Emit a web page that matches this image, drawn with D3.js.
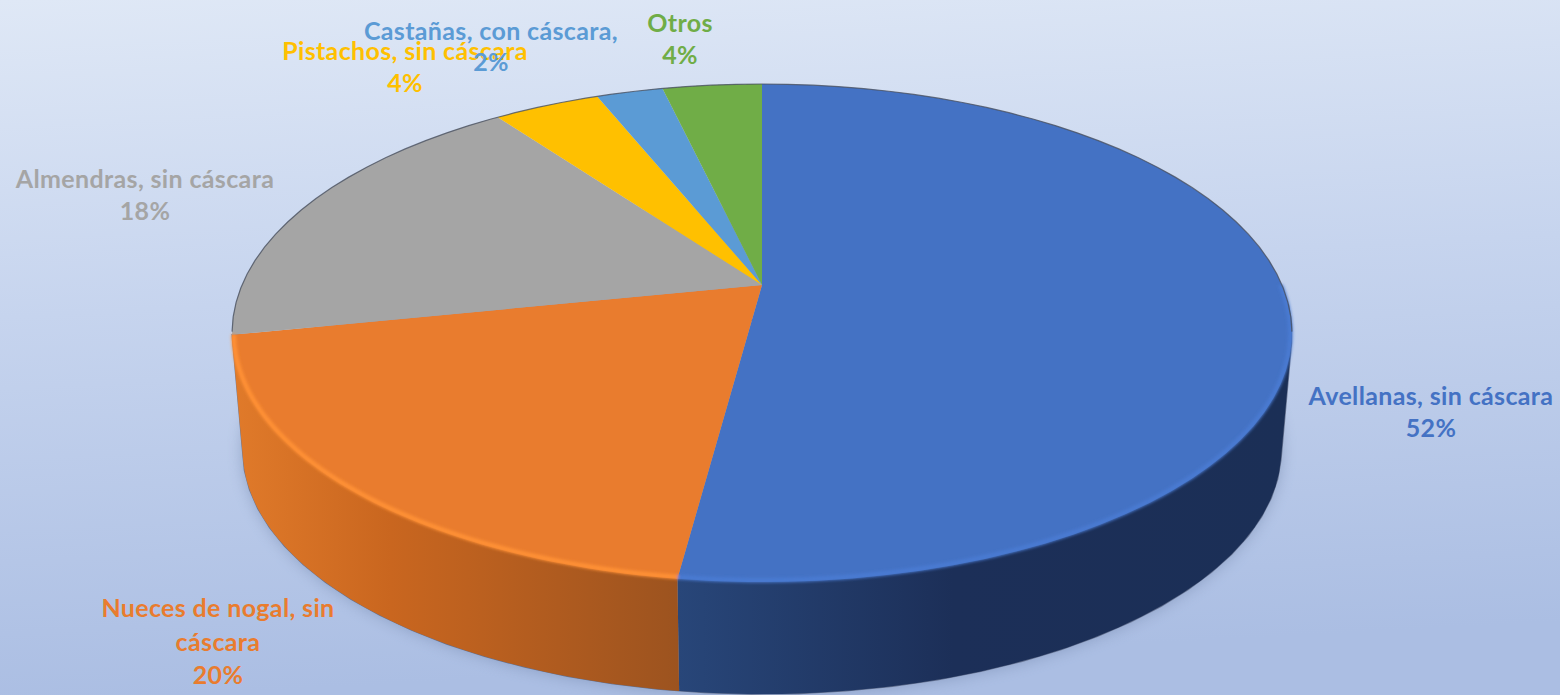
<!DOCTYPE html>
<html>
<head>
<meta charset="utf-8">
<script src="https://cdn.jsdelivr.net/npm/d3@7"></script>
<style>
  html, body { margin: 0; padding: 0; overflow: hidden; }
  svg { display: block; }
  text { font-family: Lato, "Open Sans", sans-serif; font-weight: 700; text-anchor: middle; }
</style>
</head>
<body>
<div id="chart"></div>
<script>
var categories = ['Avellanas, sin cáscara', 'Nueces de nogal, sin cáscara', 'Almendras, sin cáscara',
  'Pistachos, sin cáscara', 'Castañas, con cáscara,', 'Otros'];
var shares = [52.1, 19.7, 18.2, 3.9, 2.45, 3.65];
var colors = ['#4472c4', '#e97c2e', '#a5a5a5', '#ffc000', '#5b9bd5', '#70ad47'];
var rimColors = ['#4a7ad2', '#ff9136', '#b4b4b4', '#ffc000', '#5b9bd5', '#70ad47'];

var width = 1560, height = 695;

// label placement, one entry per category (centre x, first baseline, line gap)
var labelPos = [
  { x: 1431, y: 405, gap: 32 },
  { x: 218, y: 617, gap: 33.5 },
  { x: 145, y: 188, gap: 32 },
  { x: 405, y: 60, gap: 32 },
  { x: 491, y: 40, gap: 31 },
  { x: 680, y: 32, gap: 32 }
];

// tilted disc: a unit circle seen in perspective, the lower rim a bit smaller
var cx = 762, topY = 285, lowY = 403, lowScale = 0.98;
var kx = 520, ky = 239.75, persp = -0.1928;

function project(angle, low) {
  var x = Math.sin(angle), y = -Math.cos(angle), w = 1 + persp * y;
  var s = low ? lowScale : 1;
  return [cx + s * kx * x / w, (low ? lowY : topY) + s * ky * y / w];
}

function rimPoints(a0, a1, low) {
  return d3.range(0, 61).map(function(i) {
    return project(a0 + (a1 - a0) * i / 60, low);
  });
}

// wall of a front slice = hull of both rims (its inner part ends up under the top face)
function wallPath(a0, a1) {
  var pts = rimPoints(a0, a1, false).concat(rimPoints(a0, a1, true)).filter(function(p) { return p[1] > 300; });
  return line(d3.polygonHull(pts)) + 'Z';
}

var line = d3.line();
var total = d3.sum(shares);
var pct = d3.format('.0%');

var pie = d3.pie().sort(null).value(function(d) { return d; });
var arcs = pie(shares);

var svg = d3.select('#chart').append('svg')
  .attr('width', width)
  .attr('height', height);

var defs = svg.append('defs');

var bg = defs.append('linearGradient').attr('id', 'bg')
  .attr('x1', '0%').attr('y1', '0%').attr('x2', '12%').attr('y2', '100%');
bg.append('stop').attr('offset', '0%').attr('stop-color', '#dfe8f6');
bg.append('stop').attr('offset', '45%').attr('stop-color', '#c6d4ee');
bg.append('stop').attr('offset', '100%').attr('stop-color', '#abbee3');

var sideOrange = defs.append('linearGradient').attr('id', 'sideOrange')
  .attr('gradientUnits', 'userSpaceOnUse')
  .attr('x1', 235).attr('x2', 680).attr('y1', 0).attr('y2', 0);
sideOrange.append('stop').attr('offset', '0%').attr('stop-color', '#e07a2a');
sideOrange.append('stop').attr('offset', '35%').attr('stop-color', '#c9661f');
sideOrange.append('stop').attr('offset', '100%').attr('stop-color', '#9c531f');

var sideBlue = defs.append('linearGradient').attr('id', 'sideBlue')
  .attr('gradientUnits', 'userSpaceOnUse')
  .attr('x1', 678).attr('x2', 1290).attr('y1', 0).attr('y2', 0);
sideBlue.append('stop').attr('offset', '0%').attr('stop-color', '#284679');
sideBlue.append('stop').attr('offset', '45%').attr('stop-color', '#1c2f58');
sideBlue.append('stop').attr('offset', '100%').attr('stop-color', '#1b2f56');

defs.append('filter').attr('id', 'soft').attr('x', '-10%').attr('y', '-10%').attr('width', '120%').attr('height', '120%')
  .append('feGaussianBlur').attr('stdDeviation', 8);
defs.append('filter').attr('id', 'rimBlur').attr('x', '-5%').attr('y', '-5%').attr('width', '110%').attr('height', '110%')
  .append('feGaussianBlur').attr('stdDeviation', 1.5);

svg.append('rect').attr('width', width).attr('height', height).attr('fill', 'url(#bg)');

// soft shadow under the disc
svg.append('path')
  .attr('d', line(rimPoints(0, 2 * Math.PI, true)) + 'Z')
  .attr('fill', '#5c6f95')
  .attr('opacity', 0.45)
  .attr('filter', 'url(#soft)');

// thin dark outline round the walls, drawn first so only its outer half shows
svg.append('path')
  .attr('d', wallPath(0, arcs[1].endAngle))
  .attr('fill', 'none')
  .attr('stroke', '#3c4660')
  .attr('stroke-opacity', 0.6)
  .attr('stroke-width', 1.4);

// side walls, only the two front slices show one
var sides = svg.append('g').attr('class', 'sides');
sides.selectAll('path').data(arcs.slice(0, 2)).enter().append('path')
  .attr('d', function(d) { return wallPath(d.startAngle, d.endAngle); })
  .attr('fill', function(d, i) { return i === 0 ? 'url(#sideBlue)' : 'url(#sideOrange)'; });

// top face
var faces = svg.append('g').attr('class', 'faces');
faces.selectAll('path').data(arcs).enter().append('path')
  .attr('d', function(d) {
    return line([[cx, topY]].concat(rimPoints(d.startAngle, d.endAngle, false))) + 'Z';
  })
  .attr('fill', function(d, i) { return colors[i]; });

// light bevel along the front edge, pulled slightly inside the rim
var bevel = svg.append('g').attr('class', 'bevel').attr('filter', 'url(#rimBlur)');
bevel.selectAll('path').data(arcs.slice(0, 2)).enter().append('path')
  .attr('d', function(d) {
    return line(rimPoints(Math.max(d.startAngle, Math.PI * 0.5), d.endAngle, false).map(function(p) {
      return [p[0] + (cx - p[0]) * 0.003, topY + (p[1] - topY) * 0.994];
    }));
  })
  .attr('fill', 'none')
  .attr('stroke', function(d, i) { return rimColors[i]; })
  .attr('stroke-width', 4.5);

// dark hairline along the back edge
svg.append('path')
  .attr('d', line(rimPoints(-Math.PI * 0.56, Math.PI * 0.56, false)))
  .attr('fill', 'none')
  .attr('stroke', '#4a5160')
  .attr('stroke-opacity', 0.8)
  .attr('stroke-width', 1.2);

// data labels
var labels = svg.append('g').attr('class', 'labels');
labels.selectAll('text').data(categories).enter().append('text')
  .attr('fill', function(d, i) { return colors[i]; })
  .style('font-size', '25px')
  .style('letter-spacing', '0.35px')
  .each(function(d, i) {
    var t = d3.select(this), p = labelPos[i];
    var lines = i === 1 ? ['Nueces de nogal, sin', 'cáscara'] : [d];
    lines.push(pct(shares[i] / total));
    lines.forEach(function(s, j) {
      t.append('tspan').attr('x', p.x).attr('y', p.y + j * p.gap).text(s);
    });
  });
</script>
</body>
</html>
